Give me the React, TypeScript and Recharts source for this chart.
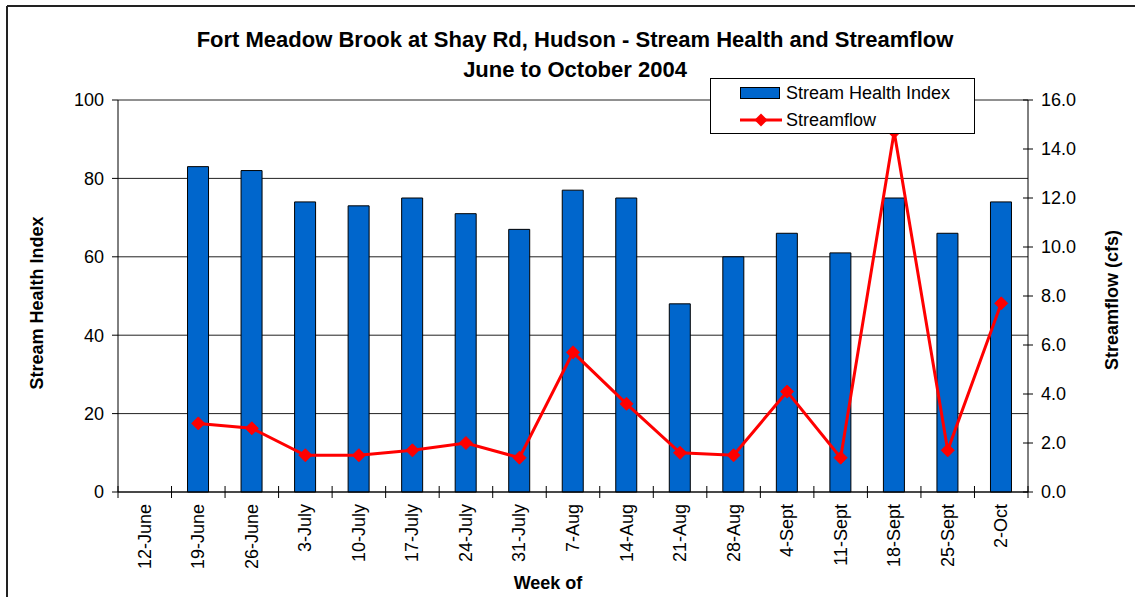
import React from 'react';
import { ComposedChart, Bar, Line, XAxis, YAxis, CartesianGrid, Legend } from 'recharts';

// Weekly sampling dates (week of)
const weeks = [
  '12-June', '19-June', '26-June', '3-July', '10-July', '17-July', '24-July', '31-July',
  '7-Aug', '14-Aug', '21-Aug', '28-Aug', '4-Sept', '11-Sept', '18-Sept', '25-Sept', '2-Oct',
];

// Stream Health Index per week (no reading for the first week)
const healthIndex: (number | null)[] = [
  null, 83, 82, 74, 73, 75, 71, 67, 77, 75, 48, 60, 66, 61, 75, 66, 74,
];

// Streamflow in cfs per week
const streamflow: (number | null)[] = [
  null, 2.8, 2.6, 1.5, 1.5, 1.7, 2.0, 1.4, 5.7, 3.6, 1.6, 1.5, 4.1, 1.4, 14.7, 1.7, 7.7,
];

const healthTicks = [0, 20, 40, 60, 80, 100];
const flowTicks = [0, 2, 4, 6, 8, 10, 12, 14, 16];

const data = weeks.map((week, i) => ({ week, health: healthIndex[i], flow: streamflow[i] }));

const FONT = '"Liberation Sans", Arial, Helvetica, sans-serif';
const BLUE = '#0066CC';
const RED = '#FF0000';

function Diamond(props: any) {
  const { cx, cy, value } = props;
  if (cx == null || cy == null || value == null) return null;
  const r = 6.5;
  return (
    <path
      d={`M${cx},${cy - r}L${cx + r},${cy}L${cx},${cy + r}L${cx - r},${cy}Z`}
      fill={RED}
      stroke={RED}
      strokeWidth={1}
    />
  );
}

// Category labels rotated upright, with tick marks drawn on the band boundaries
function WeekTick(props: any) {
  const { x, y, payload, index, width } = props;
  const band = (typeof width === 'number' && width > 0 ? width : 910) / weeks.length;
  const isLast = index === weeks.length - 1;
  return (
    <g>
      <line x1={x - band / 2} x2={x - band / 2} y1={y - 6} y2={y + 6} stroke="#000" strokeWidth={1} />
      {isLast && (
        <line x1={x + band / 2} x2={x + band / 2} y1={y - 6} y2={y + 6} stroke="#000" strokeWidth={1} />
      )}
      <text
        transform={`translate(${x},${y + 12}) rotate(-90)`}
        textAnchor="end"
        dominantBaseline="central"
        fontSize={18}
        fontFamily={FONT}
        fill="#000"
      >
        {payload.value}
      </text>
    </g>
  );
}

// Right-axis labels with tick marks crossing the axis line
function FlowTick(props: any) {
  const { x, y, payload } = props;
  const ax = x - 13;
  return (
    <g>
      <line x1={ax - 5} x2={ax + 5} y1={y} y2={y} stroke="#000" strokeWidth={1} />
      <text x={x} y={y} dy="0.35em" textAnchor="start" fontSize={18} fontFamily={FONT} fill="#000">
        {Number(payload.value).toFixed(1)}
      </text>
    </g>
  );
}

function LegendBox() {
  return (
    <div
      style={{
        width: 263,
        height: 54,
        border: '1px solid #000',
        background: '#fff',
        fontFamily: FONT,
        fontSize: 18,
        color: '#000',
        position: 'relative',
      }}
    >
      <svg width={263} height={54} style={{ position: 'absolute', left: 0, top: 0 }}>
        <rect x={29.5} y={8.5} width={39} height={11} fill={BLUE} stroke="#000" strokeWidth={1} />
        <line x1={29} x2={71} y1={41} y2={41} stroke={RED} strokeWidth={3} />
        <path d="M50,34.5L56.5,41L50,47.5L43.5,41Z" fill={RED} />
        <text x={75} y={14} dy="0.35em" fontSize={18} fontFamily={FONT} fill="#000">
          Stream Health Index
        </text>
        <text x={75} y={41} dy="0.35em" fontSize={18} fontFamily={FONT} fill="#000">
          Streamflow
        </text>
      </svg>
    </div>
  );
}

export default function App() {
  return (
    <div
      style={{
        position: 'absolute',
        left: 0,
        top: 0,
        width: 1135,
        height: 597,
        overflow: 'hidden',
        background: '#fff',
      }}
    >
      <ComposedChart
        width={1135}
        height={597}
        data={data}
        margin={{ top: 100, right: 47, bottom: 25, left: 58 }}
        barCategoryGap={0}
      >
        <CartesianGrid yAxisId="left" vertical={false} stroke="#222" strokeWidth={1} />
        <XAxis
          dataKey="week"
          interval={0}
          tickLine={false}
          tickSize={0}
          tickMargin={0}
          height={80}
          axisLine={{ stroke: '#000', strokeWidth: 1 }}
          tick={<WeekTick />}
        />
        <YAxis
          yAxisId="left"
          orientation="left"
          width={60}
          domain={[0, 100]}
          ticks={healthTicks}
          interval={0}
          tickSize={6}
          tickMargin={8}
          axisLine={{ stroke: '#000', strokeWidth: 1 }}
          tickLine={{ stroke: '#000', strokeWidth: 1 }}
          tick={{ fontSize: 18, fontFamily: FONT, fill: '#000' }}
        />
        <YAxis
          yAxisId="right"
          orientation="right"
          width={60}
          domain={[0, 16]}
          ticks={flowTicks}
          interval={0}
          tickSize={5}
          tickMargin={8}
          tickLine={false}
          axisLine={{ stroke: '#000', strokeWidth: 1 }}
          tick={<FlowTick />}
        />
        <Bar
          yAxisId="left"
          dataKey="health"
          name="Stream Health Index"
          fill={BLUE}
          stroke="#000"
          strokeWidth={1}
          barSize={21}
          isAnimationActive={false}
        />
        <Line
          yAxisId="right"
          dataKey="flow"
          name="Streamflow"
          stroke={RED}
          strokeWidth={3}
          dot={<Diamond />}
          activeDot={false}
          isAnimationActive={false}
        />
        <Legend
          layout="vertical"
          align="center"
          verticalAlign="middle"
          content={() => <LegendBox />}
          wrapperStyle={{ left: 710, top: 78, width: 265, height: 56 }}
        />
      </ComposedChart>
      <svg
        width={1135}
        height={597}
        style={{ position: 'absolute', left: 0, top: 0, pointerEvents: 'none' }}
      >
        <line x1={7} y1={6} x2={1135} y2={6} stroke="#222" strokeWidth={2} />
        <line x1={7} y1={6} x2={7} y2={597} stroke="#222" strokeWidth={2} />
        <text x={575} y={47} textAnchor="middle" fontSize={22} fontWeight="bold" fontFamily={FONT} fill="#000">
          Fort Meadow Brook at Shay Rd, Hudson - Stream Health and Streamflow
        </text>
        <text x={575} y={77} textAnchor="middle" fontSize={22} fontWeight="bold" fontFamily={FONT} fill="#000">
          June to October 2004
        </text>
        <text
          transform="translate(37,303) rotate(-90)"
          textAnchor="middle"
          dominantBaseline="central"
          fontSize={18}
          fontWeight="bold"
          fontFamily={FONT}
          fill="#000"
        >
          Stream Health Index
        </text>
        <text
          transform="translate(1112,300) rotate(-90)"
          textAnchor="middle"
          dominantBaseline="central"
          fontSize={18}
          fontWeight="bold"
          fontFamily={FONT}
          fill="#000"
        >
          Streamflow (cfs)
        </text>
        <text x={548} y={589} textAnchor="middle" fontSize={18} fontWeight="bold" fontFamily={FONT} fill="#000">
          Week of
        </text>
      </svg>
    </div>
  );
}
